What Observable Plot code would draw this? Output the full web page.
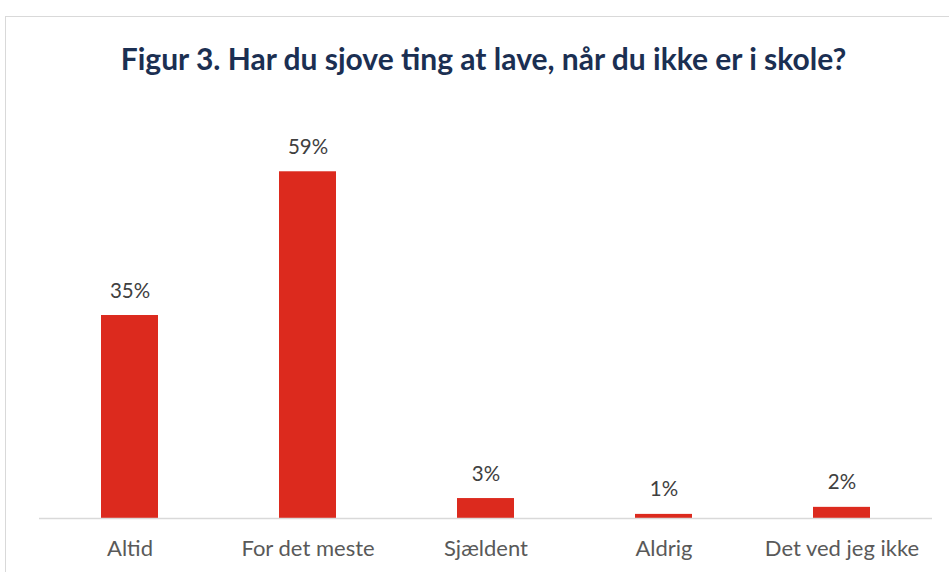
<!DOCTYPE html>
<html><head><meta charset="utf-8">
<script src="https://cdn.jsdelivr.net/npm/d3@7"></script>
<script src="https://cdn.jsdelivr.net/npm/@observablehq/plot@0.6"></script>
<style>
body{margin:0;background:#fff;width:949px;height:572px;overflow:hidden;position:relative;font-family:Lato,sans-serif;}
#frame{position:absolute;left:5px;top:16px;width:960px;height:600px;border:1px solid #d9d9d9;box-sizing:border-box;}
#title{position:absolute;left:0;top:38px;width:967px;text-align:center;font:bold 30px Lato,sans-serif;color:#1b2f52;line-height:40px;}
#chart{position:absolute;left:0;top:100px;}
</style></head>
<body>
<div id="frame"></div>
<div id="title">Figur 3. Har du sjove ting at lave, når du ikke er i skole?</div>
<div id="chart"></div>
<script>
const categories = ["Altid", "For det meste", "Sjældent", "Aldrig", "Det ved jeg ikke"];
const values = [34.6, 59.1, 3.4, 0.7, 1.9];
const labels = ["35%", "59%", "3%", "1%", "2%"];
const data = categories.map((c, i) => ({cat: c, v: values[i], label: labels[i]}));
const chart = Plot.plot({
  width: 949,
  height: 472,
  marginLeft: 39,
  marginRight: 17,
  marginTop: 66,
  marginBottom: 54,
  style: {fontFamily: "Lato, sans-serif", background: "transparent"},
  x: {domain: categories, paddingInner: 0.68, paddingOuter: 0.34, label: null},
  y: {domain: [0, 60], axis: null},
  marks: [
    Plot.barY(data, {x: "cat", y: "v", fill: "#dc2a1e"}),
    Plot.ruleY([0], {stroke: "#d9d9d9", strokeWidth: 1.5}),
    Plot.text(data, {x: "cat", y: "v", text: "label", dy: -18, lineAnchor: "bottom", fontSize: 20.5, fill: "#404040"}),
    Plot.axisX({tickSize: 0, tickPadding: 22, fontSize: 22, color: "#595959", label: null})
  ]
});
document.getElementById("chart").appendChild(chart);
</script>
</body></html>
